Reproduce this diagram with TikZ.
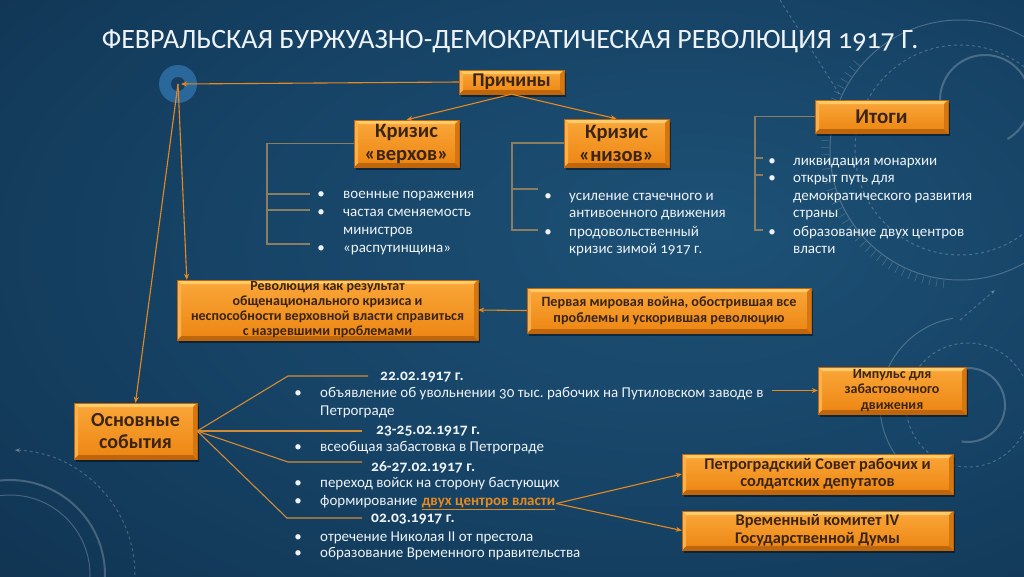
\documentclass[tikz,border=0pt]{standalone}
\usepackage{fontspec}
\setmainfont{Carlito}[Numbers=OldStyle]
\usetikzlibrary{arrows.meta,shadows,calc}
\frenchspacing
\definecolor{bgA}{HTML}{1D5176}
\definecolor{bgB}{HTML}{164366}
\definecolor{bgC}{HTML}{0D2A44}
\definecolor{orl}{HTML}{E8891E}
\definecolor{fanc}{HTML}{D38B36}
\definecolor{brkc}{RGB}{139,125,96}
\definecolor{boxtop}{HTML}{FAA73A}
\definecolor{boxbot}{HTML}{EC8512}
\definecolor{bevT}{HTML}{FDCB6A}
\definecolor{bevB}{HTML}{BF660C}
\definecolor{bevL}{HTML}{F8B14C}
\definecolor{bevR}{HTML}{D57710}
\definecolor{boxtxt}{HTML}{3A2412}
\definecolor{ringc}{HTML}{2A679A}
\definecolor{ringin}{HTML}{173E60}
\definecolor{txt}{HTML}{EEF3F7}
\pgfdeclareradialshading{bgshade}{\pgfpoint{10bp}{5bp}}{color(0bp)=(bgA); color(22bp)=(bgB); color(55bp)=(bgC); color(80bp)=(bgC)}
\begin{document}
\begin{tikzpicture}[x=1pt,y=-1pt,
  obox/.style={rectangle, inner sep=0pt, align=center, text=boxtxt,
    top color=boxtop, bottom color=boxbot, draw=bevB, line width=0.4pt,
    drop shadow={shadow xshift=2pt,shadow yshift=-3pt,opacity=0.45,fill=black},
    path picture={
      \coordinate (pNW) at (path picture bounding box.north west);
      \coordinate (pNE) at (path picture bounding box.north east);
      \coordinate (pSW) at (path picture bounding box.south west);
      \coordinate (pSE) at (path picture bounding box.south east);
      \fill[bevT] (pNW) -- (pNE) -- ([shift={(-4pt,-4pt)}]pNE) -- ([shift={(4pt,-4pt)}]pNW) -- cycle;
      \fill[bevB] (pSW) -- (pSE) -- ([shift={(-4pt,4pt)}]pSE) -- ([shift={(4pt,4pt)}]pSW) -- cycle;
      \fill[bevL] (pNW) -- ([shift={(4pt,-4pt)}]pNW) -- ([shift={(4pt,4pt)}]pSW) -- (pSW) -- cycle;
      \fill[bevR] (pNE) -- ([shift={(-4pt,-4pt)}]pNE) -- ([shift={(-4pt,4pt)}]pSE) -- (pSE) -- cycle;
    }},
  conn/.style={draw=orl, line width=1.1pt},
  arr/.style={conn, -{Stealth[length=6pt,width=5pt]}},
  fan/.style={draw=fanc, line width=1.1pt},
  brk/.style={draw=brkc, line width=1.1pt},
  tx/.style={text=txt, inner sep=0pt, anchor=base west, font=\fontsize{15}{17}\selectfont},
  bul/.style={text=txt, inner sep=0pt, anchor=base, font=\fontsize{15}{17}\selectfont},
  dt/.style={text=txt, inner sep=0pt, anchor=base west, font=\bfseries\fontsize{15.5}{17}\selectfont},
  deco/.style={draw=white, opacity=0.22, line width=1pt}
]
\useasboundingbox (0,0) rectangle (1024,576);
\clip (0,0) rectangle (1024,576);
\shade[shading=bgshade] (0,0) rectangle (1024,576);

% decorations
\draw[deco] (960,150) circle (130pt);
\draw[deco, dashed] (960,150) circle (105pt);
\foreach \a in {140,143,...,265} \draw[deco, line width=0.5pt] ($(960,150)+(\a:131pt)$) -- ($(960,150)+(\a:139pt)$);
\draw[deco, line width=2pt] ($(985,100)+(200:45pt)$) arc[start angle=200, end angle=-60, radius=45pt];
\draw[deco, dashed] (780,0) -- (840,95);
\draw[deco, line width=2pt] ($(968,405)+(150:37pt)$) arc[start angle=150, end angle=-100, radius=37pt];
\draw[deco, dashed] (968,405) circle (62pt);
\draw[deco] ($(968,405)+(260:88pt)$) arc[start angle=260, end angle=100, radius=88pt];
\draw[deco, dashed, -{Stealth[length=5pt]}] (960,320) -- (995,290);
\draw[deco, line width=2pt] (10,575) circle (95pt);
\draw[deco] (10,575) circle (80pt);
\draw[deco, dashed, -{Stealth[length=6pt]}] ($(10,575)+(0:125pt)$) arc[start angle=0, end angle=88, radius=125pt];

% title
\node[text=txt, font=\fontsize{28}{32}\selectfont, inner sep=0pt] (title) at (510,41) {ФЕВРАЛЬСКАЯ БУРЖУАЗНО-ДЕМОКРАТИЧЕСКАЯ РЕВОЛЮЦИЯ 1917 Г.};

% ring
\coordinate (ring) at (178,84);
\fill[ringc] (ring) circle (19pt);
\fill[ringin] (ring) circle (7pt);

% boxes
\node[obox, minimum width=105pt, minimum height=24pt, font=\bfseries\fontsize{19.5}{20}\selectfont] (prich) at (511.5,82) {Причины};
\node[obox, minimum width=105pt, minimum height=47pt, font=\bfseries\fontsize{20.5}{23}\selectfont] (kv) at (406.5,143.5) {Кризис\\«верхов»};
\node[obox, minimum width=105pt, minimum height=48pt, font=\bfseries\fontsize{20.5}{23}\selectfont] (kn) at (616.5,143) {Кризис\\«низов»};
\node[obox, minimum width=133pt, minimum height=33pt, font=\bfseries\fontsize{21}{23}\selectfont] (itogi) at (881.5,116.5) {Итоги};
\node[obox, minimum width=301pt, minimum height=60pt, font=\bfseries\fontsize{14}{15}\selectfont] (rev) at (327.5,310) {Революция как результат\\общенационального кризиса и\\неспособности верховной власти справиться\\с назревшими проблемами};
\node[obox, minimum width=284pt, minimum height=45pt, font=\bfseries\fontsize{14.2}{16}\selectfont] (pmv) at (669,310.5) {Первая мировая война, обострившая все\\проблемы и ускорившая революцию};
\node[obox, minimum width=123pt, minimum height=56pt, font=\bfseries\fontsize{20}{22}\selectfont] (osn) at (135.5,431) {Основные\\события};
\node[obox, minimum width=148pt, minimum height=47pt, font=\bfseries\fontsize{14}{15.5}\selectfont] (imp) at (892,390.5) {Импульс для\\забастовочного\\движения};
\node[obox, minimum width=271pt, minimum height=40pt, font=\bfseries\fontsize{16.3}{17}\selectfont] (ps) at (817.5,474) {Петроградский Совет рабочих и\\солдатских депутатов};
\node[obox, minimum width=271pt, minimum height=39pt, font=\bfseries\fontsize{16.3}{18}\selectfont] (vk) at (817.5,530.5) {Временный комитет IV\\Государственной Думы};

% lists: Кризис верхов
\foreach \t/\y [count=\i] in {военные поражения/194, частая сменяемость/212, министров/230, «распутинщина»/248}
  \node[tx] (kvl\i) at (343,\y+4) {\t};
\foreach \y [count=\i] in {194,212,248} \node[bul] (kvb\i) at (321,\y+4) {•};
\draw[brk] (kv.west) -- (267,143.5) -- (267,244) -- (310,244);
\draw[brk] (267,194) -- (310,194);
\draw[brk] (267,210) -- (310,210);

% Кризис низов
\foreach \t/\y [count=\i] in {усиление стачечного и/196, антивоенного движения/213, продовольственный/232, кризис зимой 1917 г./249}
  \node[tx] (knl\i) at (569,\y+4) {\t};
\foreach \y [count=\i] in {196,232} \node[bul] (knb\i) at (548,\y+4) {•};
\draw[brk] (kn.west) -- (512,143) -- (512,230) -- (538,230);
\draw[brk] (512,189) -- (538,189);

% Итоги
\foreach \t/\y [count=\i] in {ликвидация монархии/161, открыт путь для/178, демократического развития/196, страны/213, образование двух центров/232, власти/249}
  \node[tx] (itl\i) at (793,\y+4) {\t};
\foreach \y [count=\i] in {161,178,232} \node[bul] (itb\i) at (772,\y+4) {•};
\draw[brk] (itogi.west) -- (755,116.5) -- (755,230) -- (763,230);
\draw[brk] (755,158) -- (763,158);
\draw[brk] (755,175) -- (763,175);

% connectors top
\draw[arr] (prich.south) -- (kv.north);
\draw[arr] (prich.south) -- (kn.north);
\draw[arr] (prich.west) -- ([xshift=3pt]ring);
\draw[arr] (ring) -- ([xshift=10pt]rev.north west);
\draw[arr] (ring) -- (osn.north);
\draw[arr] (pmv.west) -- (rev.east);

% events
\node[dt] (d1) at (380,380) {22.02.1917 г.};
\node[tx] (e1) at (320,397) {объявление об увольнении 30 тыс. рабочих на Путиловском заводе в};
\node[tx] (e2) at (320,415) {Петрограде};
\node[dt] (d2) at (376,434) {23-25.02.1917 г.};
\node[tx] (e3) at (320,451) {всеобщая забастовка в Петрограде};
\node[dt] (d3) at (371,471) {26-27.02.1917 г.};
\node[tx] (e4) at (320,487) {переход войск на сторону бастующих};
\node[tx] (e5) at (320,505) {формирование};
\node[tx, text=orl, font=\bfseries\fontsize{15}{17}\selectfont] (dcv) at ([xshift=4pt]e5.base east) {\underline{двух центров власти}};
\node[dt] (d4) at (371,522) {02.03.1917 г.};
\node[tx] (e6) at (320,541) {отречение Николая II от престола};
\node[tx] (e7) at (320,557) {образование Временного правительства};
\foreach \y [count=\i] in {393,447,483,501,537,553} \node[bul] (evb\i) at (298,\y+4) {•};

\draw[fan] (osn.east) -- (288,376) -- (368,376);
\draw[fan] (osn.east) -- (362,431);
\draw[fan] (osn.east) -- (288,462) -- (362,462);
\draw[fan] (osn.east) -- (287,518) -- (362,518);

\draw[arr] ($(e1.east |- imp.west)+(8,0)$) -- (imp.west);
\draw[arr] ([xshift=1pt]dcv.east) -- (ps.west);
\draw[arr] ([xshift=1pt]dcv.east) -- (vk.west);
\end{tikzpicture}
\end{document}
